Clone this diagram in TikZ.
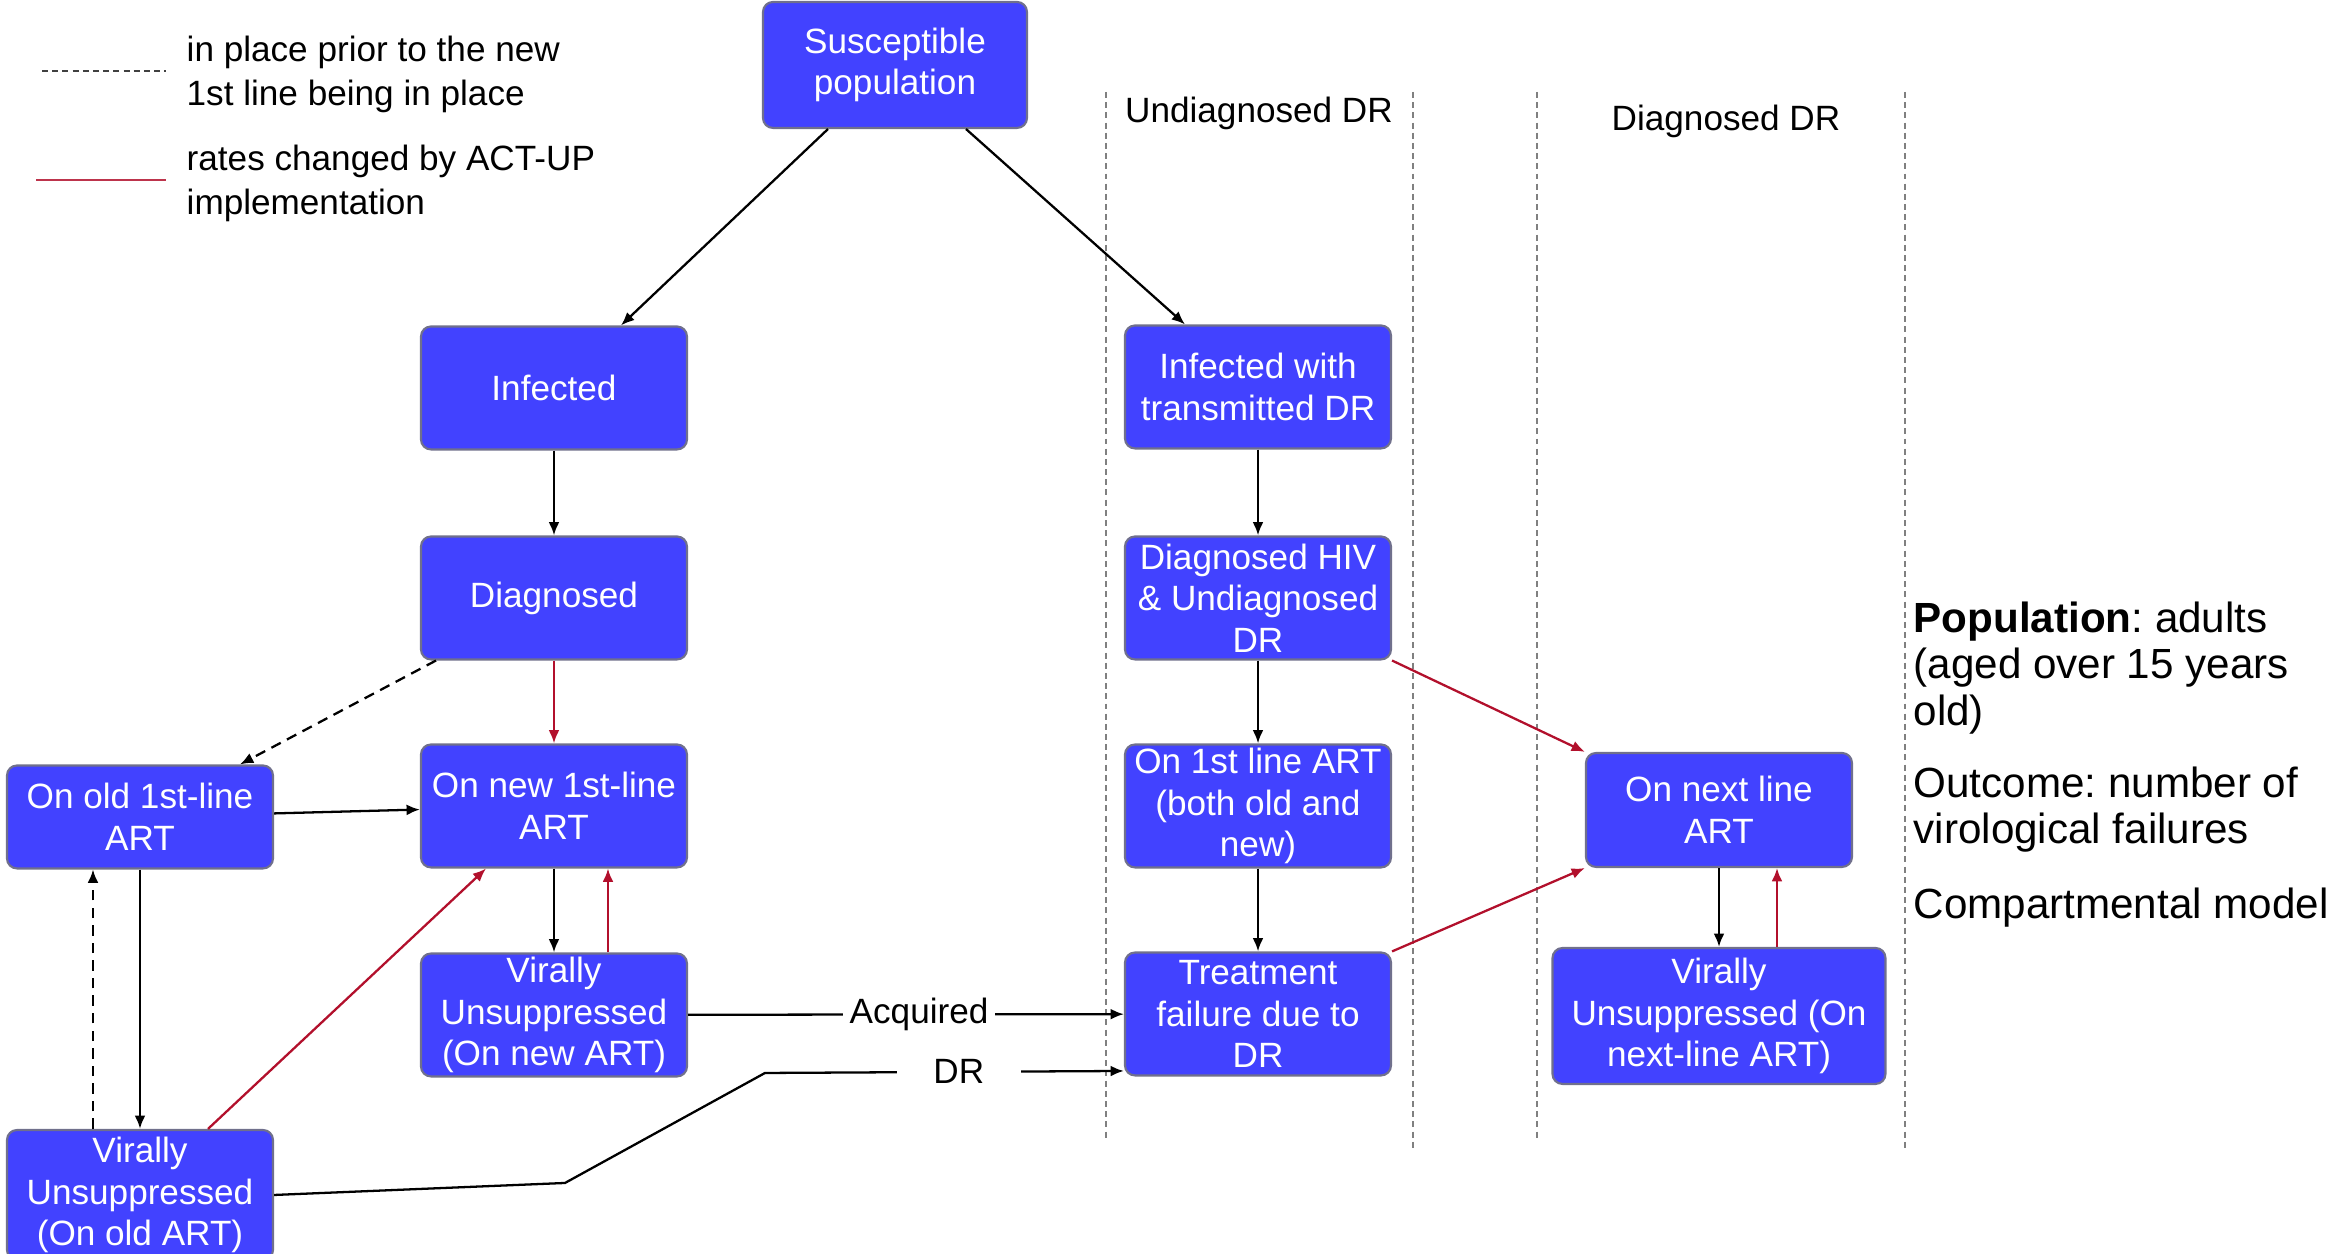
\documentclass[tikz,border=0pt]{standalone}
\usepackage{fontspec}
\setmainfont{Liberation Sans}
\usetikzlibrary{arrows.meta}
\definecolor{boxblue}{RGB}{66,66,255}
\definecolor{boxedge}{RGB}{112,112,140}
\definecolor{actred}{RGB}{178,16,44}
\frenchspacing
\begin{document}
\begin{tikzpicture}[
 box/.style={draw=boxedge,line width=0.6pt,fill=boxblue,rounded corners=0.1cm,text=white,align=center,inner sep=0pt,minimum width=2.66cm,minimum height=1.23cm,font=\fontsize{10}{11.8}\selectfont},
 arr/.style={-{Latex[length=3.8pt,width=3.1pt]},line width=0.65pt},
 redarr/.style={arr,draw=actred},
 oldarr/.style={arr,dash pattern=on 3pt off 2pt},
 lane/.style={gray,line width=0.4pt,dash pattern=on 1.7pt off 1.2pt},
 lbl/.style={fill=white,inner sep=0.07cm,font=\fontsize{10}{12}\selectfont},
 head/.style={anchor=base,inner sep=0pt,font=\fontsize{10}{12}\selectfont},
 key/.style={anchor=west,align=left,inner sep=0pt,font=\fontsize{10}{12.5}\selectfont},
 note/.style={anchor=north west,align=left,inner sep=0pt,font=\fontsize{12}{13.3}\selectfont}]
 \useasboundingbox (0,0) rectangle (23.31,12.54);
 % legend
 \draw[lane,black!75] (0.42,11.83) -- (1.66,11.83);
 \draw[actred!85,line width=0.5pt] (0.36,10.74) -- (1.66,10.74);
 \node[key] (keyold) at (1.86,11.80) {in place prior to the new\\1st line being in place};
 \node[key] (keyred) at (1.86,10.71) {rates changed by ACT-UP\\implementation};
 % lanes
 \foreach \x/\y in {11.06/1.14,14.13/1.04,15.37/1.14,19.05/1.04}
  \draw[lane] (\x,11.62) -- (\x,\y);
 \node[head] (undiag) at (12.59,11.31) {Undiagnosed DR};
 \node[head] (diagdr) at (17.26,11.23) {Diagnosed DR};
 % compartments
 \node[box,minimum width=2.64cm,minimum height=1.26cm] (sus) at (8.95,11.89) {Susceptible\\population};
 \node[box] (inf) at (5.54,8.66) {Infected};
 \node[box] (diag) at (5.54,6.56) {Diagnosed};
 \node[box] (onnew) at (5.54,4.48) {On new 1st-line\\ART};
 \node[box] (vunew) at (5.54,2.39) {Virally\\Unsuppressed\\(On new ART)};
 \node[box,minimum height=1.03cm] (onold) at (1.40,4.37) {On old 1st-line\\ART};
 \node[box,minimum height=1.30cm] (vuold) at (1.40,0.59) {Virally\\Unsuppressed\\(On old ART)};
 \node[box] (infdr) at (12.58,8.67) {Infected with\\transmitted DR};
 \node[box] (diaghiv) at (12.58,6.56) {Diagnosed HIV\\\& Undiagnosed\\DR};
 \node[box] (on1st) at (12.58,4.48) {On 1st line ART\\(both old and\\new)};
 \node[box] (tf) at (12.58,2.40) {Treatment\\failure due to\\DR};
 \node[box,minimum height=1.14cm] (onnext) at (17.19,4.44) {On next line\\ART};
 \node[box,minimum width=3.33cm,minimum height=1.36cm] (vunext) at (17.19,2.38) {Virally\\Unsuppressed (On\\next-line ART)};
 % notes
 \node[note] (popn) at (19.13,6.53) {\textbf{Population}: adults\\(aged over 15 years\\old)};
 \node[note] (outc) at (19.13,4.88) {Outcome: number of\\virological failures};
 \node[note] (cmod) at (19.13,3.67) {Compartmental model};
 % flows
 \draw[arr] ([xshift=-0.67cm]sus.south) -- ([xshift=0.67cm]inf.north);
 \draw[arr] ([xshift=0.71cm]sus.south) -- ([xshift=-0.73cm]infdr.north);
 \draw[arr] (inf) -- (diag);
 \draw[redarr] (diag) -- (onnew);
 \draw[oldarr] ([xshift=-1.18cm]diag.south) -- ([xshift=1.0cm]onold.north);
 \draw[arr] (onold) -- (onnew);
 \draw[arr] (onold) -- (vuold);
 \draw[oldarr] ([xshift=-0.47cm]vuold.north) -- ([xshift=-0.47cm]onold.south);
 \draw[redarr] ([xshift=0.68cm]vuold.north) -- ([xshift=-0.68cm]onnew.south);
 \draw[arr] (onnew) -- (vunew);
 \draw[redarr] ([xshift=0.54cm]vunew.north) -- ([xshift=0.54cm]onnew.south);
 \draw[arr] (vunew) -- node[lbl,pos=0.53] (acq) {Acquired} (tf);
 \draw[arr] (vuold.east) -- (5.65,0.71) -- (7.65,1.81) -- node[lbl,pos=0.54,minimum width=1.24cm] (dr) {DR} ([yshift=-0.57cm]tf.west);
 \draw[arr] (infdr) -- (diaghiv);
 \draw[arr] (diaghiv) -- (on1st);
 \draw[arr] (on1st) -- (tf);
 \draw[redarr] (diaghiv.south east) -- (onnext.north west);
 \draw[redarr] (tf.north east) -- (onnext.south west);
 \draw[arr] (onnext) -- (vunext);
 \draw[redarr] ([xshift=0.58cm]vunext.north) -- ([xshift=0.58cm]onnext.south);
\end{tikzpicture}
\end{document}
